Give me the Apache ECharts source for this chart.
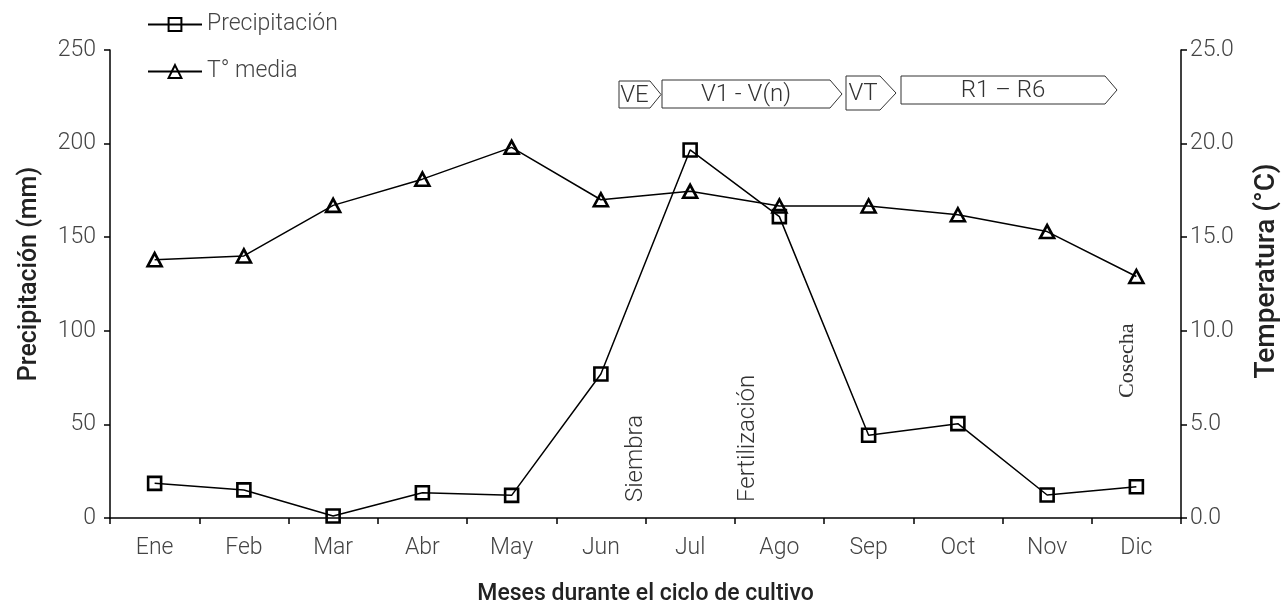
<!DOCTYPE html>
<html>
<head>
<meta charset="utf-8">
<script src="https://cdn.jsdelivr.net/npm/echarts@6/dist/echarts.min.js"></script>
<style>html,body{margin:0;padding:0;background:#fff}#c{width:1286px;height:600px}</style>
</head>
<body>
<div id="c"></div>
<script>
const months = ['Ene','Feb','Mar','Abr','May','Jun','Jul','Ago','Sep','Oct','Nov','Dic'];
const precipitacion = [18.5, 15.0, 1.1, 13.5, 12.1, 76.9, 196.6, 161.0, 44.2, 50.4, 12.3, 16.7];
const tempMedia = [13.8, 14.0, 16.7, 18.1, 19.8, 17.0, 17.45, 16.67, 16.67, 16.2, 15.3, 12.9];
const precipTicks = [0, 50, 100, 150, 200, 250];
const tempTicks = [0, 5, 10, 15, 20, 25];
const stageLabels = ['VE', 'V1 - V(n)', 'VT', 'R1 \u2013 R6'];
const eventLabels = ['Siembra', 'Fertilización', 'Cosecha'];

const FONT = 'Roboto';
const TXT = '#444';
const chart = echarts.init(document.getElementById('c'), null, {renderer: 'canvas'});

function stage(L, R, T, y0, y1, label) {
  return [
    {type: 'polygon', shape: {points: [[L,y0],[R,y0],[T,(y0+y1)/2],[R,y1],[L,y1]]},
     style: {fill: '#fff', stroke: '#333', lineWidth: 1}, z: 10},
    {type: 'text', x: (L+R)/2, y: (y0+y1)/2 + 1,
     style: {text: label, fill: '#333', font: '300 24px Roboto', textAlign: 'center', textVerticalAlign: 'middle'}, z: 11}
  ];
}
function vtext(x, y, label, font) {
  return {type: 'text', x: x, y: y, rotation: Math.PI/2,
    style: {text: label, fill: '#333', font: font, textAlign: 'left', textVerticalAlign: 'middle'}, z: 11};
}

const graphics = [].concat(
  stage(619, 650, 661, 81, 108, stageLabels[0]),
  stage(662, 830, 842, 80, 108, stageLabels[1]),
  stage(846, 880, 896, 76, 110, stageLabels[2]),
  stage(901, 1105, 1117, 76, 104, stageLabels[3]),
  [vtext(636, 502, eventLabels[0], '300 24px Roboto'),
   vtext(748, 502, eventLabels[1], '300 24px Roboto'),
   vtext(1127, 398, eventLabels[2], '22px "Liberation Serif"')]
);

chart.setOption({
  animation: false,
  backgroundColor: '#fff',
  grid: {left: 110, right: 105, top: 50, bottom: 82, containLabel: false, outerBoundsMode: 'none'},
  legend: {
    orient: 'vertical', left: 142, top: 8, itemWidth: 54, itemHeight: 16, itemGap: 24,
    textStyle: {fontFamily: FONT, fontWeight: 300, fontSize: 23, color: TXT, padding: [0,0,0,0]},
    data: ['Precipitación', 'T° media']
  },
  xAxis: {
    type: 'category', data: months, boundaryGap: true,
    name: 'Meses durante el ciclo de cultivo', nameLocation: 'middle', nameGap: 65,
    nameTextStyle: {fontFamily: FONT, fontWeight: 500, fontSize: 23, color: '#222'},
    axisLine: {lineStyle: {color: '#000', width: 1.5}},
    axisTick: {show: true, alignWithLabel: false, length: 6, lineStyle: {color: '#000', width: 1.5}},
    axisLabel: {fontFamily: FONT, fontWeight: 300, fontSize: 23, color: TXT, margin: 19},
    splitLine: {show: false}
  },
  yAxis: [
    {type: 'value', min: 0, max: 250, interval: 50, position: 'left',
     name: 'Precipitación (mm)', nameLocation: 'middle', nameGap: 68, nameRotate: 90,
     nameTextStyle: {fontFamily: FONT, fontWeight: 500, fontSize: 25, color: '#222', padding: [0,0,0,20]},
     axisLine: {show: true, lineStyle: {color: '#000', width: 1.5}},
     axisTick: {show: true, length: 6, lineStyle: {color: '#000', width: 1.5}},
     axisLabel: {fontFamily: FONT, fontWeight: 300, fontSize: 23, color: TXT, margin: 14},
     splitLine: {show: false}},
    {type: 'value', min: 0, max: 25, interval: 5, position: 'right',
     name: 'Temperatura (°C)', nameLocation: 'middle', nameGap: 72, nameRotate: 90,
     nameTextStyle: {fontFamily: FONT, fontWeight: 500, fontSize: 28, color: '#222', padding: [0,0,0,26]},
     axisLine: {show: true, lineStyle: {color: '#000', width: 1.5}},
     axisTick: {show: true, length: 6, lineStyle: {color: '#000', width: 1.5}},
     axisLabel: {fontFamily: FONT, fontWeight: 300, fontSize: 23, color: TXT, margin: 9,
       formatter: v => v.toFixed(1)},
     splitLine: {show: false}}
  ],
  series: [
    {name: 'Precipitación', type: 'line', yAxisIndex: 0, data: precipitacion,
     symbol: 'rect', symbolSize: 13, showAllSymbol: true,
     lineStyle: {color: '#000', width: 1.5},
     itemStyle: {color: 'rgba(255,255,255,0)', borderColor: '#000', borderWidth: 2.6}, z: 3},
    {name: 'T° media', type: 'line', yAxisIndex: 1, data: tempMedia,
     symbol: 'triangle', symbolSize: [14, 13], showAllSymbol: true,
     lineStyle: {color: '#000', width: 1.5},
     itemStyle: {color: 'rgba(255,255,255,0)', borderColor: '#000', borderWidth: 2.6}, z: 3}
  ],
  graphic: graphics
});
</script>
</body>
</html>
